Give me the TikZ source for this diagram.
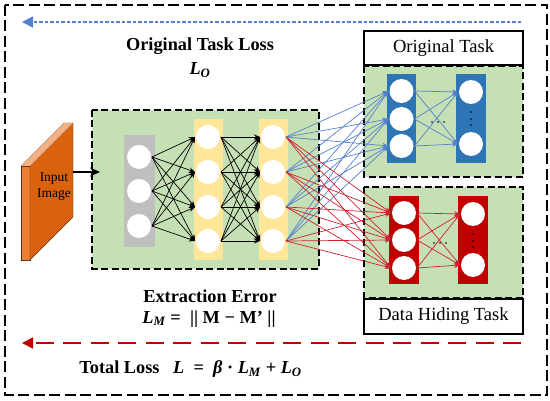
\documentclass[tikz,border=0pt]{standalone}
\usepackage{fontspec}
\setmainfont{Liberation Serif}
\usetikzlibrary{arrows.meta}
\definecolor{panelgreen}{HTML}{C5E0B4}
\definecolor{layergray}{HTML}{BFBFBF}
\definecolor{layeryellow}{HTML}{FFE699}
\definecolor{taskblue}{HTML}{2E75B6}
\definecolor{taskred}{HTML}{C00000}
\definecolor{lineblue}{HTML}{5580CC}
\definecolor{linered}{HTML}{D02030}
\definecolor{frontorange}{HTML}{ED7D31}
\definecolor{sideorange}{HTML}{D9620F}
\definecolor{toporange}{HTML}{F4B183}
\newcommand{\lossvar}[1]{\textit{L}\textsubscript{\textit{#1}}}
\tikzset{
  panel/.style={fill=panelgreen,draw=black,line width=1.1pt,dash pattern=on 7pt off 3.5pt},
  neuron/.style={circle,fill=white,minimum size=24pt,inner sep=0pt,outer sep=1pt},
  titlebox/.style={rectangle,fill=white,inner sep=0pt,font=\fontsize{18.5}{21}\selectfont},
  losstext/.style={inner sep=0pt,font=\fontsize{18.3}{21}\selectfont\bfseries},
  blackedge/.style={-{Stealth[length=6pt,width=5pt]},black,line width=.7pt},
  blueedge/.style={-{Stealth[length=6pt,width=5pt]},lineblue,line width=.7pt},
  rededge/.style={-{Stealth[length=6pt,width=5pt]},linered,line width=.7pt}
}
\begin{document}
\begin{tikzpicture}[x=1pt,y=-1pt]
\useasboundingbox (0,0) rectangle (550,401);
\draw[line width=1.3pt,dash pattern=on 11pt off 4.5pt] (5,5) rectangle (547,395);
\coordinate (bluestart) at (521,22);
\coordinate (blueend) at (22,22);
\coordinate (redstart) at (521,343);
\coordinate (redend) at (22,343);
\draw[-{Triangle[length=11pt,width=11pt]},lineblue,line width=1.6pt,dash pattern=on 3.5pt off 2pt] (bluestart) -- (blueend);
\draw[-{Triangle[length=11pt,width=11pt]},taskred,line width=1.6pt,dash pattern=on 18pt off 9.5pt] (redstart) -- (redend);
\node[losstext] (origloss) at (200,46) {Original Task Loss};
\node[losstext] (origvar) at (200,70) {\lossvar{O}};
\node[losstext] (exterr) at (210,296) {Extraction Error};
\node[losstext] (extvar) at (209,319) {\lossvar{M} =\ \ || M − M’ ||};
\node[losstext] (totalloss) at (190.5,369) {Total Loss\ \ \ \textit{L}\ \ =\ \ \textit{β} · \lossvar{M} + \lossvar{O}};
% input block
\fill[frontorange,draw=black!60!frontorange,line width=.4pt] (21,166) rectangle (30,260);
\fill[sideorange,draw=black!60!frontorange,line width=.4pt] (30,166) -- (73,123) -- (73,217) -- (30,260) -- cycle;
\fill[toporange,draw=black!20!toporange,line width=.4pt] (21,166) -- (64,123) -- (73,123) -- (30,166) -- cycle;
\node[inner sep=0pt,align=center,font=\fontsize{13.5}{16.5}\selectfont] (inputimg) at (54,186.5) {Input\\Image};
% panels
\draw[panel] (92,110) rectangle (319,269);
\draw[panel] (364,66) rectangle (523,177);
\draw[panel] (364,187) rectangle (523,298);
\draw[fill=white,line width=1.8pt] (364,31) rectangle (523,65);
\draw[fill=white,line width=1.8pt] (364,299) rectangle (523,334);
\node[titlebox] (origtask) at (443.5,48) {Original Task};
\node[titlebox] (hidetask) at (443.5,316.5) {Data Hiding Task};
\coordinate (inputout) at (73,172);
\coordinate (inputin) at (100,172);
\draw[-{Stealth[length=10pt,width=9pt]},line width=1.2pt] (inputout) -- (inputin);
% layers
\fill[layergray] (124,135) rectangle (155,247);
\fill[layeryellow] (194,119) rectangle (223,260);
\fill[layeryellow] (259,119) rectangle (288,260);
\fill[taskblue] (387,74) rectangle (416,163);
\fill[taskblue] (456,74) rectangle (486,163);
\fill[taskred] (389,196) rectangle (419,284);
\fill[taskred] (458,196) rectangle (488,284);
% neurons
\foreach \y [count=\i] in {157,191,226} \node[neuron] (in\i) at (139,\y) {};
\foreach \y [count=\i] in {137,172,207,241} {
  \node[neuron] (ha\i) at (208,\y) {};
  \node[neuron] (hb\i) at (273,\y) {};
}
\foreach \y [count=\i] in {91,119,146} \node[neuron] (ba\i) at (401.5,\y) {};
\foreach \y [count=\i] in {92,144} \node[neuron] (bb\i) at (471,\y) {};
\foreach \y [count=\i] in {213,240,268} \node[neuron] (ra\i) at (404,\y) {};
\foreach \y [count=\i] in {214,265} \node[neuron] (rb\i) at (473,\y) {};
% edges
\foreach \i in {1,2,3} \foreach \j in {1,2,3,4} \draw[blackedge] (in\i.east) -- (ha\j.west);
\foreach \i in {1,2,3,4} \foreach \j in {1,2,3,4} \draw[blackedge] (ha\i.east) -- (hb\j.west);
\foreach \i in {1,2,3,4} \foreach \j in {1,2,3} \draw[blueedge] (hb\i.east) -- (ba\j.west);
\foreach \i in {1,2,3,4} \foreach \j in {1,2,3} \draw[rededge] (hb\i.east) -- (ra\j.west);
\foreach \i in {1,2,3} \foreach \j in {1,2} \draw[blueedge] (ba\i.east) -- (bb\j.west);
\foreach \i in {1,2,3} \foreach \j in {1,2} \draw[rededge] (ra\i.east) -- (rb\j.west);
% dots
\foreach \x in {432,438,444} {
  \fill (\x,122) circle (.9pt);
  \fill (\x+2,243) circle (.9pt);
}
\foreach \y in {112,119,125} \fill (471,\y) circle (.9pt);
\foreach \y in {234,241,247} \fill (473,\y) circle (.9pt);
\end{tikzpicture}
\end{document}
